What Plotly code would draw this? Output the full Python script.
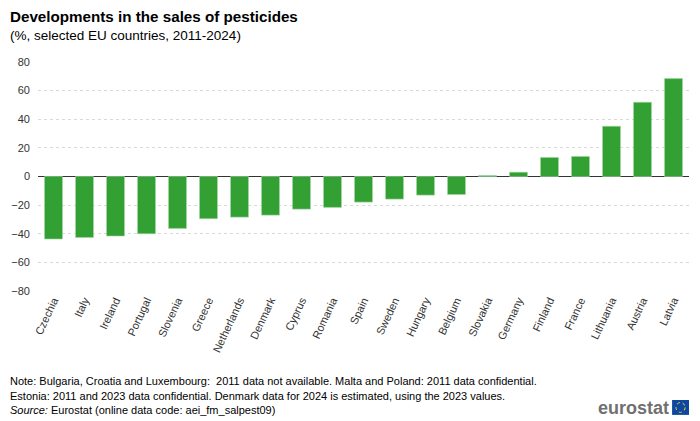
import plotly.graph_objects as go

# ── Data ──────────────────────────────────────────────────────────────────────
countries = [
    "Czechia", "Italy", "Ireland", "Portugal", "Slovenia", "Greece",
    "Netherlands", "Denmark", "Cyprus", "Romania", "Spain", "Sweden",
    "Hungary", "Belgium", "Slovakia", "Germany", "Finland", "France",
    "Lithuania", "Austria", "Latvia",
]
change_pct = [
    -43.7, -42.6, -41.6, -40.0, -36.3, -29.5,
    -28.4, -27.0, -22.8, -21.6, -17.9, -15.8,
    -13.0, -12.6, 0.7, 3.0, 13.3, 14.0,
    35.1, 51.9, 68.4,
]
y_ticks = [80, 60, 40, 20, 0, -20, -40, -60, -80]

# ── Style ─────────────────────────────────────────────────────────────────────
FONT = "Liberation Sans, Arial, sans-serif"
BAR_COLOR = "#33a033"
TEXT_COLOR = "#333333"

fig = go.Figure(
    go.Bar(
        x=countries,
        y=change_pct,
        marker_color=BAR_COLOR,
        marker_line=dict(color="#a5d6a5", width=0.6),
        width=0.58,
    )
)

# page body adds an 8px offset, so margins are shifted to compensate
fig.update_layout(
    width=700,
    height=421,
    paper_bgcolor="white",
    plot_bgcolor="white",
    font=dict(family=FONT, color=TEXT_COLOR, size=11),
    margin=dict(l=30, r=19, t=54, b=138),
    showlegend=False,
)

fig.update_xaxes(
    tickangle=-65,
    tickfont=dict(size=11, color=TEXT_COLOR),
    showgrid=False,
    showline=False,
    ticks="",
    automargin=False,
)
fig.update_yaxes(
    range=[-80, 80],
    tickvals=y_ticks,
    tickfont=dict(size=11, color=TEXT_COLOR),
    ticklabelstandoff=7,
    showgrid=True,
    gridcolor="#d9d9d9",
    griddash="dot",
    gridwidth=1,
    zeroline=True,
    zerolinecolor="#333333",
    zerolinewidth=1.2,
    ticks="",
    automargin=False,
)

# ── Titles and notes ──────────────────────────────────────────────────────────
X_LEFT = -0.046
fig.add_annotation(
    text="<b>Developments in the sales of pesticides</b>",
    xref="paper", yref="paper", x=X_LEFT, y=1.0, yanchor="bottom",
    yshift=35, xanchor="left", showarrow=False,
    font=dict(size=15.2, color="#000000", family=FONT),
)
fig.add_annotation(
    text="(%, selected EU countries, 2011-2024)",
    xref="paper", yref="paper", x=X_LEFT, y=1.0, yanchor="bottom",
    yshift=17, xanchor="left", showarrow=False,
    font=dict(size=13.5, color="#000000", family=FONT),
)

notes = [
    "Note: Bulgaria, Croatia and Luxembourg:  2011 data not available. Malta and Poland: 2011 data confidential.",
    "Estonia: 2011 and 2023 data confidential. Denmark data for 2024 is estimated, using the 2023 values.",
    "<i>Source:</i> Eurostat (online data code: aei_fm_salpest09)",
]
for i, line in enumerate(notes):
    fig.add_annotation(
        text=line,
        xref="paper", yref="paper", x=X_LEFT, y=0, xanchor="left",
        yanchor="middle", yshift=-90 - i * 14.5, showarrow=False,
        font=dict(size=11, color="#000000", family=FONT),
    )

# eurostat logo
fig.add_annotation(
    text="<b>eurostat</b>",
    xref="paper", yref="paper", x=0.972, y=0, xanchor="right",
    yanchor="middle", yshift=-117, showarrow=False,
    font=dict(size=18, color="#707070", family=FONT),
)
fig.add_shape(
    type="rect", xref="paper", yref="paper",
    x0=0.974, x1=1.0, y0=-0.541, y1=-0.476,
    fillcolor="#0e47a1", line_width=0,
)
fig.add_shape(
    type="circle", xref="paper", yref="paper",
    x0=0.98, x1=0.994, y0=-0.53, y1=-0.487,
    line=dict(color="#ffd617", width=1, dash="dot"),
)

fig.write_html("out.html")
